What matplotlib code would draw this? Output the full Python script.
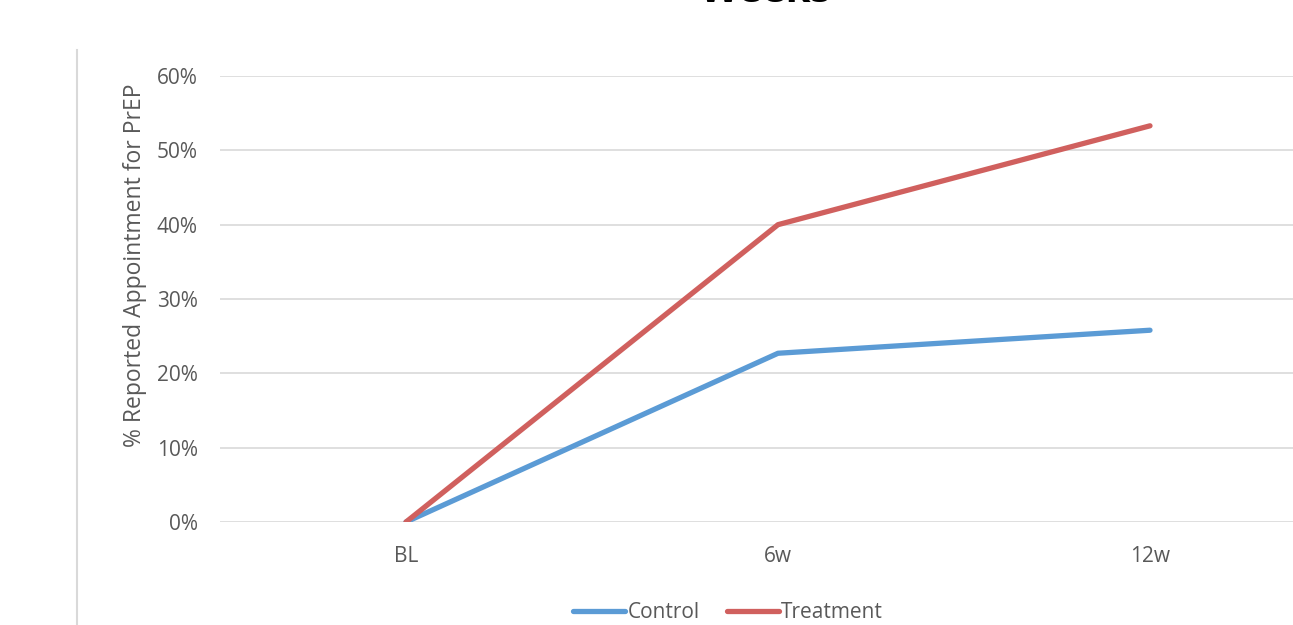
import matplotlib.pyplot as plt
from matplotlib.lines import Line2D
from matplotlib.ticker import PercentFormatter

plt.rcParams['font.family'] = ['Open Sans', 'DejaVu Sans']

weeks = ['BL', '6w', '12w']
control = [0.0, 22.7, 25.8]
treatment = [0.0, 40.0, 53.3]

fig = plt.figure(figsize=(12.93, 6.25), dpi=100)
ax = fig.add_axes([220 / 1293, 103 / 625, 1116 / 1293, 446 / 625])

x = range(len(weeks))
ax.plot(x, control, color='#5B9BD5', lw=3.8, label='Control', solid_capstyle='round')
ax.plot(x, treatment, color='#D0605E', lw=3.8, label='Treatment', solid_capstyle='round')

ax.set_xlim(-0.5, 2.5)
ax.set_ylim(0, 60)
ax.set_yticks(range(0, 61, 10))
ax.yaxis.set_major_formatter(PercentFormatter(decimals=0))
ax.set_xticks(list(x), weeks)
ax.grid(axis='y', color='#D9D9D9', lw=1.2)
ax.set_axisbelow(True)
for s in ax.spines.values():
  s.set_visible(False)
ax.tick_params(length=0, labelsize=15, colors='#595959')
ax.tick_params(axis='y', pad=16)
ax.tick_params(axis='x', pad=17)
ax.set_ylabel('% Reported Appointment for PrEP', fontsize=16.5, color='#595959')
ax.yaxis.set_label_coords(-0.065, 0.576)

# frame edge on the left
fig.add_artist(Line2D([77 / 1293, 77 / 1293], [0, 575 / 625], transform=fig.transFigure,
                      color='#D9D9D9', lw=1.5))

# title is mostly cut off at the top
fig.text(765 / 1293, 0.996, 'Weeks', ha='center', va='baseline', fontsize=29,
         fontweight='bold', color='black')

fig.legend(loc='center', bbox_to_anchor=(728 / 1293, 12 / 625), ncols=2, frameon=False,
           fontsize=15, handlelength=2.5, handletextpad=0.1, columnspacing=1.3,
           labelcolor='#595959')

fig.savefig('out.png', dpi=100)
